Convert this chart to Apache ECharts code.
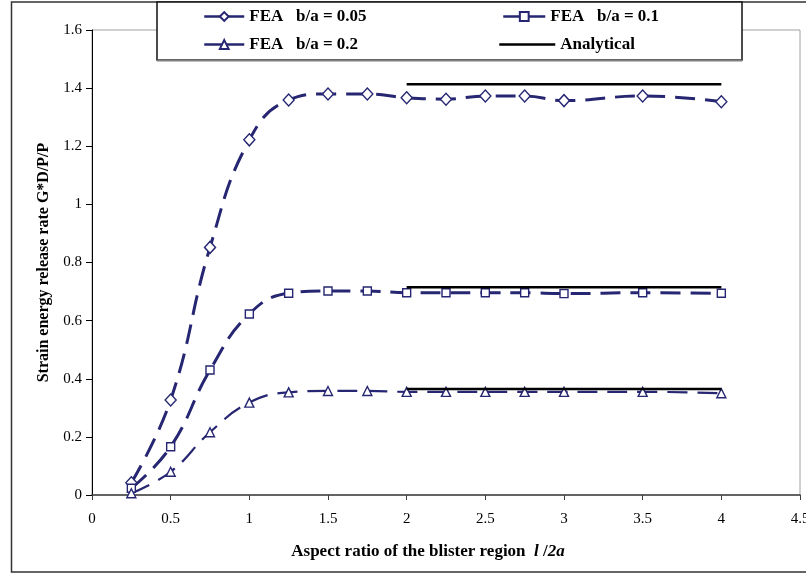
<!DOCTYPE html>
<html lang="en">
<head>
    <meta charset="UTF-8">
    <title>Strain energy release rate</title>
    <script src="https://cdn.jsdelivr.net/npm/echarts@6/dist/echarts.min.js"></script>
    <style>
        body { margin: 0; background: #fff; }
    </style>
</head>
<body>
<div id="main" style="width: 806px; height: 575px"></div>
</body>
<script>
    // aspect ratio l/2a
    let xs = [0.25, 0.5, 0.75, 1, 1.25, 1.5, 1.75, 2, 2.25, 2.5, 2.75, 3, 3.5, 4];
    // FEA results, G*D/P/P
    let fea005 = [0.042, 0.327, 0.852, 1.222, 1.359, 1.380, 1.380, 1.367, 1.362, 1.373, 1.373, 1.357, 1.373, 1.353];
    let fea01 = [0.023, 0.166, 0.430, 0.623, 0.694, 0.702, 0.702, 0.696, 0.696, 0.696, 0.696, 0.693, 0.696, 0.694];
    let fea02 = [0.006, 0.080, 0.216, 0.318, 0.353, 0.358, 0.358, 0.355, 0.355, 0.355, 0.355, 0.355, 0.355, 0.350];
    // analytical plateau values, drawn from x=2 to x=4
    let anaX = [2, 4];
    let anaVals = [1.413, 0.715, 0.365];
    let yTicks = [0, 0.2, 0.4, 0.6, 0.8, 1, 1.2, 1.4, 1.6];
    let xTicks = [0, 0.5, 1, 1.5, 2, 2.5, 3, 3.5, 4, 4.5];

    let navy = '#262672';
    let serif = '"Liberation Serif", "Times New Roman", serif';

    function pairs(vals) {
        return xs.map((x, i) => [x, vals[i]]);
    }

    function feaSeries(name, vals, symbol, size, width) {
        return {
            name: name,
            type: 'line',
            data: pairs(vals),
            smooth: 0.45,
            symbol: symbol,
            symbolSize: size,
            itemStyle: {color: '#fff', borderColor: navy, borderWidth: 1.4},
            lineStyle: {color: navy, width: width, type: [20, 10]},
            z: 3
        };
    }

    let series = [
        feaSeries('FEA   b/a = 0.05', fea005, 'diamond', [11, 12], 3),
        feaSeries('FEA   b/a = 0.1', fea01, 'rect', 8, 3),
        feaSeries('FEA   b/a = 0.2', fea02, 'triangle', 9, 2.2)
    ];
    anaVals.forEach(v => {
        series.push({
            name: 'Analytical',
            type: 'line',
            data: anaX.map(x => [x, v]),
            symbol: 'none',
            itemStyle: {color: '#000'},
            lineStyle: {color: '#000', width: 2.5, type: 'solid'},
            z: 4
        });
    });

    function legendAt(name, left, top, width) {
        return {
            data: [name],
            left: left,
            top: top,
            itemWidth: width,
            itemHeight: 11,
            itemGap: 0,
            padding: 0,
            z: 10,
            lineStyle: {type: 'solid', width: 2.5},
            textStyle: {fontFamily: serif, fontWeight: 'bold', fontSize: 17, color: '#000'}
        };
    }

    let anaLegend = legendAt('Analytical', 498, 36, 56);
    anaLegend.itemStyle = {opacity: 0};

    let myChart = echarts.init(document.getElementById('main'));
    let option = {
        animation: false,
        backgroundColor: '#fff',
        grid: {
            left: 92, right: 6, top: 30, bottom: 80,
            outerBoundsMode: 'none',
            show: true, borderColor: '#a0a0a0', borderWidth: 1
        },
        legend: [
            legendAt('FEA   b/a = 0.05', 203, 8, 40),
            legendAt('FEA   b/a = 0.1', 502, 8, 42),
            legendAt('FEA   b/a = 0.2', 203, 36, 40),
            anaLegend
        ],
        graphic: [
            { // outer frame
                type: 'rect', z: 1, silent: true,
                shape: {x: 11.5, y: 2, width: 900, height: 570},
                style: {fill: 'none', stroke: '#333', lineWidth: 1.5}
            },
            { // legend box
                type: 'rect', z: 8, silent: true,
                shape: {x: 157, y: 2, width: 585, height: 58},
                style: {fill: '#fff', stroke: '#111', lineWidth: 1.5}
            },
            {
                type: 'line', z: 9, silent: true,
                shape: {x1: 157, y1: 60.5, x2: 742, y2: 60.5},
                style: {stroke: '#808080', lineWidth: 2}
            }
        ],
        xAxis: {
            type: 'value',
            min: xTicks[0],
            max: xTicks[xTicks.length - 1],
            interval: 0.5,
            splitLine: {show: false},
            axisLine: {onZero: false, lineStyle: {color: '#404040', width: 1.5}},
            axisTick: {show: true, length: 5, lineStyle: {color: '#404040'}},
            axisLabel: {margin: 17, fontFamily: serif, fontSize: 15, color: '#000'},
            name: '{n|Aspect ratio of the blister region  }{i|l }{n|/}{i|2a}',
            nameLocation: 'middle',
            nameGap: 48,
            nameTextStyle: {
                padding: [0, 36, 0, 0],
                rich: {
                    n: {fontFamily: serif, fontWeight: 'bold', fontSize: 17, color: '#000'},
                    i: {fontFamily: serif, fontWeight: 'bold', fontStyle: 'italic', fontSize: 17, color: '#000'}
                }
            }
        },
        yAxis: {
            type: 'value',
            min: yTicks[0],
            max: yTicks[yTicks.length - 1],
            interval: 0.2,
            splitLine: {show: false},
            axisLine: {show: true, lineStyle: {color: '#000', width: 1}},
            axisTick: {show: true, length: 6, lineStyle: {color: '#000'}},
            axisLabel: {margin: 10, fontFamily: serif, fontSize: 15, color: '#000'},
            name: 'Strain energy release rate G*D/P/P',
            nameLocation: 'middle',
            nameGap: 37,
            nameTextStyle: {fontFamily: serif, fontWeight: 'bold', fontSize: 16, color: '#000'}
        },
        series: series
    };
    myChart.setOption(option);
</script>
</html>
